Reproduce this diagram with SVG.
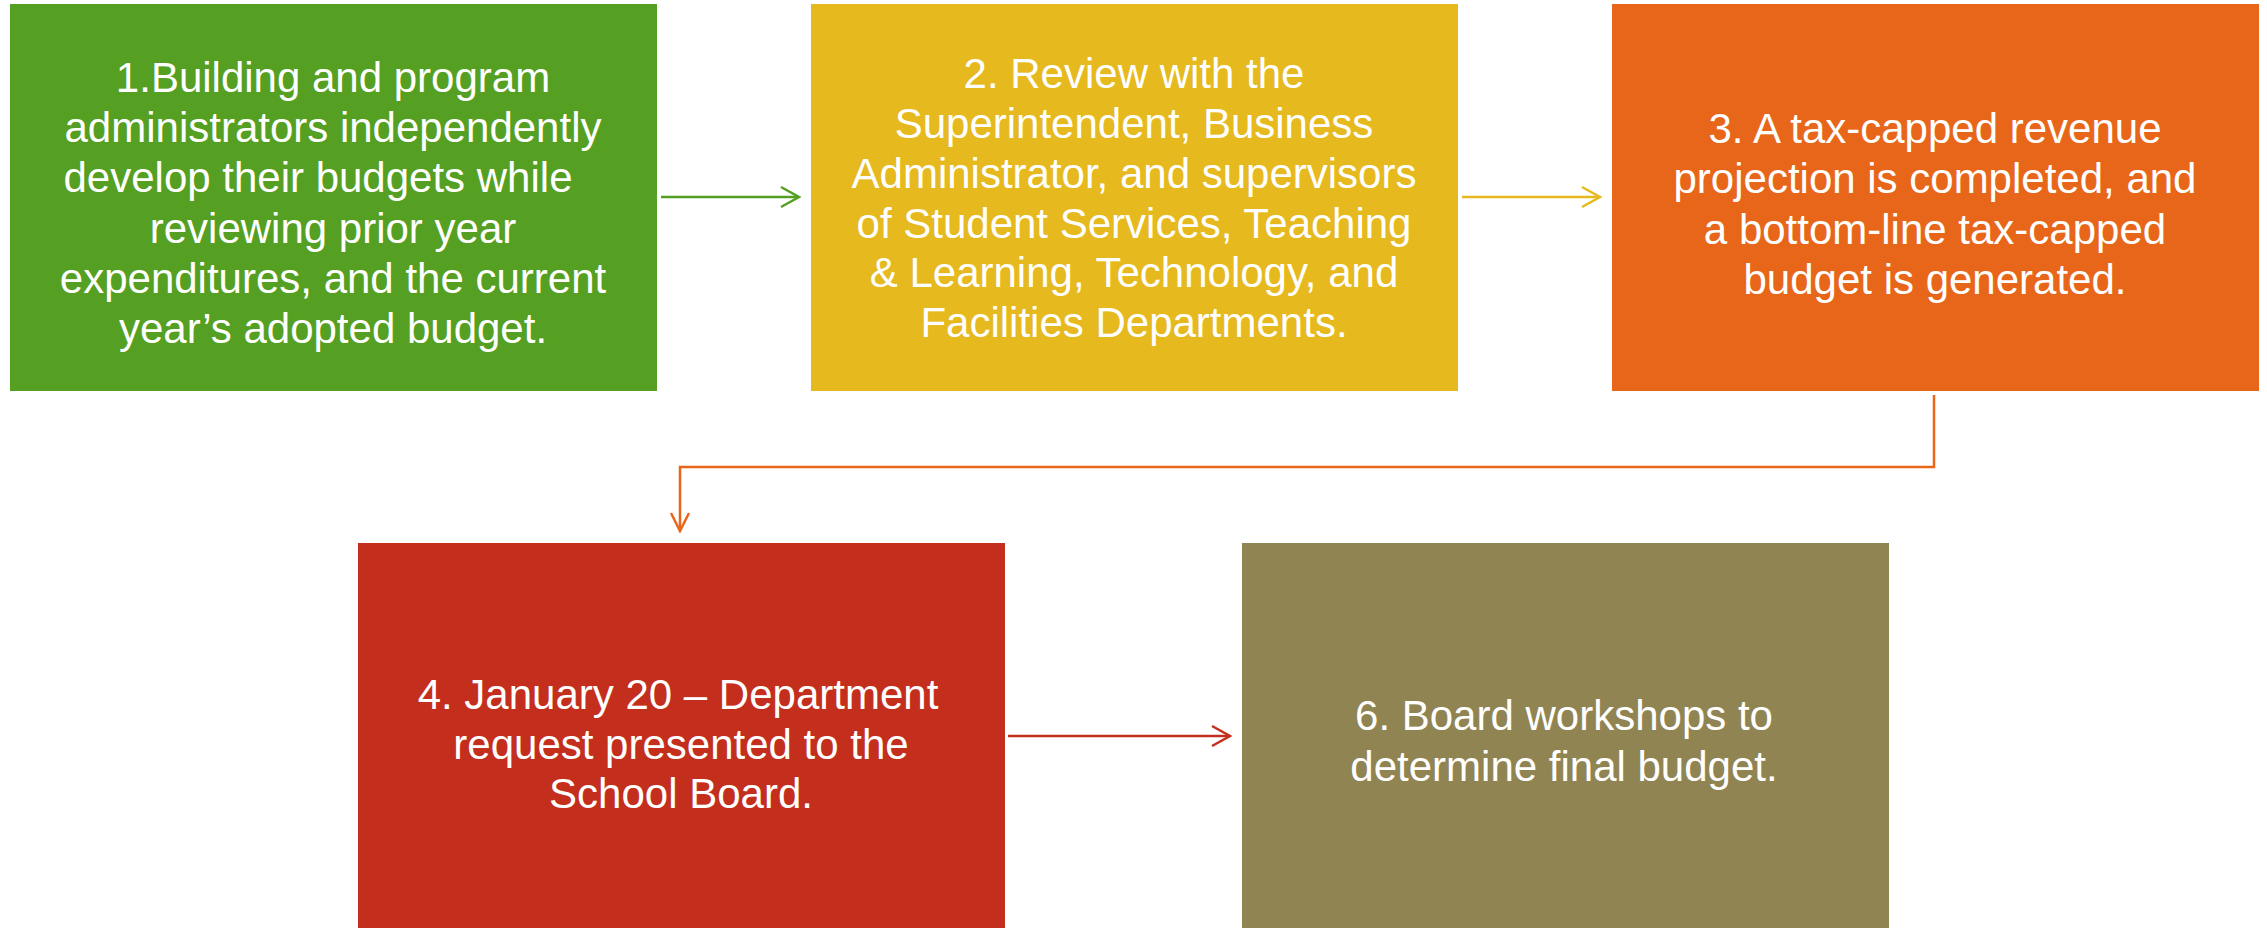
<svg xmlns="http://www.w3.org/2000/svg" width="2267" height="928" viewBox="0 0 2267 928">
<style>
.lbl{font-family:"Liberation Sans",Arial,sans-serif;font-size:42px;fill:#ffffff;text-anchor:middle}
.conn{fill:none;stroke-width:2.5}
</style>
<defs>
<marker id="mg" markerUnits="userSpaceOnUse" markerWidth="24" markerHeight="24" viewBox="-2 -2 24 24" refX="18" refY="10" orient="auto"><path d="M0,0 L18,10 L0,20" fill="none" stroke="#55A022" stroke-width="2.5"/></marker>
<marker id="my" markerUnits="userSpaceOnUse" markerWidth="24" markerHeight="24" viewBox="-2 -2 24 24" refX="18" refY="10" orient="auto"><path d="M0,0 L18,10 L0,20" fill="none" stroke="#E6B91E" stroke-width="2.5"/></marker>
<marker id="mo" markerUnits="userSpaceOnUse" markerWidth="24" markerHeight="24" viewBox="-2 -2 24 24" refX="18" refY="10" orient="auto"><path d="M0,1 L18,10 L0,19" fill="none" stroke="#E8661A" stroke-width="2.5"/></marker>
<marker id="mr" markerUnits="userSpaceOnUse" markerWidth="24" markerHeight="24" viewBox="-2 -2 24 24" refX="18" refY="10" orient="auto"><path d="M0,0 L18,10 L0,20" fill="none" stroke="#C42E1C" stroke-width="2.5"/></marker>
</defs>
<rect width="2267" height="928" fill="#ffffff"/>
<g id="connectors">
<line class="conn" x1="661" y1="197" x2="799" y2="197" stroke="#55A022" marker-end="url(#mg)"/>
<line class="conn" x1="1462" y1="197" x2="1600" y2="197" stroke="#E6B91E" marker-end="url(#my)"/>
<path class="conn" d="M1934,395 V467 H680 V531" stroke="#E8661A" marker-end="url(#mo)"/>
<line class="conn" x1="1008" y1="736" x2="1230" y2="736" stroke="#C42E1C" marker-end="url(#mr)"/>
</g>
<g id="node1">
<rect x="10" y="4" width="647" height="387" fill="#55A022"/>
<text class="lbl"><tspan x="333" y="92">1.Building and program</tspan><tspan x="333" y="142">administrators independently</tspan><tspan x="318" y="192">develop their budgets while</tspan><tspan x="333" y="243">reviewing prior year</tspan><tspan x="333" y="293">expenditures, and the current</tspan><tspan x="333" y="343">year’s adopted budget.</tspan></text>
</g>
<g id="node2">
<rect x="811" y="4" width="647" height="387" fill="#E6B91E"/>
<text class="lbl"><tspan x="1134" y="88">2. Review with the</tspan><tspan x="1134" y="138">Superintendent, Business</tspan><tspan x="1134" y="188">Administrator, and supervisors</tspan><tspan x="1134" y="238">of Student Services, Teaching</tspan><tspan x="1134" y="287">&amp; Learning, Technology, and</tspan><tspan x="1134" y="337">Facilities Departments.</tspan></text>
</g>
<g id="node3">
<rect x="1612" y="4" width="647" height="387" fill="#E8661A"/>
<text class="lbl"><tspan x="1935" y="143">3. A tax-capped revenue</tspan><tspan x="1935" y="193">projection is completed, and</tspan><tspan x="1935" y="244">a bottom-line tax-capped</tspan><tspan x="1935" y="294">budget is generated.</tspan></text>
</g>
<g id="node4">
<rect x="358" y="543" width="647" height="385" fill="#C42E1C"/>
<text class="lbl"><tspan x="678" y="709">4. January 20 – Department</tspan><tspan x="681" y="759">request presented to the</tspan><tspan x="681" y="808">School Board.</tspan></text>
</g>
<g id="node6">
<rect x="1242" y="543" width="647" height="385" fill="#918453"/>
<text class="lbl"><tspan x="1564" y="730">6. Board workshops to</tspan><tspan x="1564" y="781">determine final budget.</tspan></text>
</g>
</svg>
